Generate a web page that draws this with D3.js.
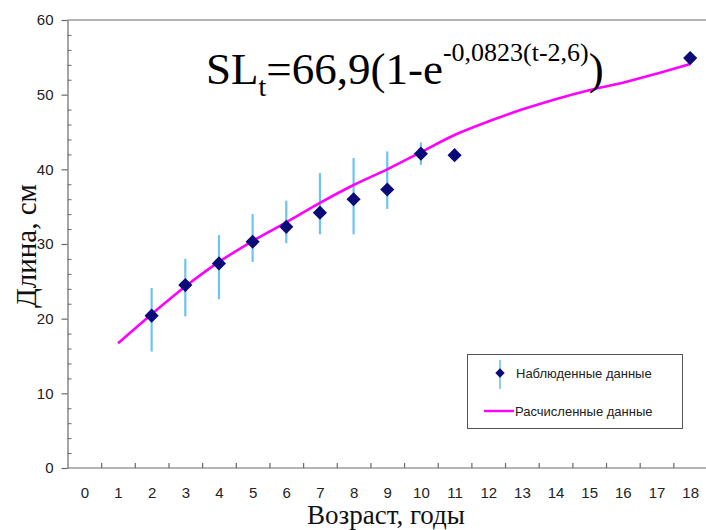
<!DOCTYPE html>
<html><head><meta charset="utf-8">
<script src="https://cdn.jsdelivr.net/npm/d3@7"></script>
<style>body{margin:0;background:#fff}svg{display:block}</style>
</head><body>
<script>
// Data
const ages = [2,3,4,5,6,7,8,9,10,11,18];
const observed = [20.4,24.5,27.4,30.3,32.3,34.2,36.0,37.3,42.1,41.9,54.9];
const errLow =  [15.6,20.3,22.6,27.6,30.1,31.3,31.3,34.7,40.6,null,null];
const errHigh = [24.1,28.0,31.2,34.0,35.8,39.5,41.5,42.4,43.6,null,null];
const calcAges = [1,2,3,4,5,6,7,8,9,10,11,12,13,14,15,16,17,18];
const calculated = [16.7,20.6,24.3,27.6,30.4,32.9,35.5,37.9,40.0,42.3,44.6,46.4,48.0,49.4,50.6,51.6,52.8,54.1];
const xTickLabels = [0,1,2,3,4,5,6,7,8,9,10,11,12,13,14,15,16,17,18];
const yTicks = [0,10,20,30,40,50,60];
const legendLabels = ["Наблюденные данные","Расчисленные данные"];

const W=706,H=530;
const svg=d3.select("body").append("svg").attr("width",W).attr("height",H);
const sans="'Liberation Sans', Arial, sans-serif", serif="'Liberation Serif','Times New Roman',serif";
const axisCol="#6a6a6a";

const x=d3.scaleLinear().domain([-0.5,18.5]).range([67.5,707]);
const y=d3.scaleLinear().domain([0,60]).range([468,20]);

// top frame line
svg.append("line").attr("x1",x(-0.5)).attr("x2",W).attr("y1",y(60)).attr("y2",y(60)).attr("stroke",axisCol).attr("stroke-width",1.2);

// Y axis major
const gy=svg.append("g").attr("transform",`translate(${x(-0.5)},0)`)
 .call(d3.axisLeft(y).tickValues(yTicks).tickSizeInner(6).tickSizeOuter(0).tickPadding(8));
gy.selectAll("text").attr("font-family",sans).attr("font-size",15).attr("fill","#222");
gy.selectAll("line,path").attr("stroke",axisCol).attr("stroke-width",1.2);
// Y minor ticks inside
const gym=svg.append("g").attr("transform",`translate(${x(-0.5)},0)`)
 .call(d3.axisRight(y).tickValues(d3.range(2,60,2).filter(v=>v%10!==0)).tickSize(4).tickFormat(""));
gym.select("path").remove();
gym.selectAll("line").attr("stroke",axisCol);

// X axis: tick marks at category boundaries (inside)
const gx=svg.append("g").attr("transform",`translate(0,${y(0)})`)
 .call(d3.axisTop(x).tickValues(d3.range(0.5,18,1)).tickSizeInner(5).tickSizeOuter(0).tickFormat(""));
gx.select("path").attr("d",`M${x(-0.5)},0H${W}`);
gx.selectAll("line,path").attr("stroke",axisCol).attr("stroke-width",1.2);
// X labels
const gxl=svg.append("g").attr("transform",`translate(0,${y(0)})`)
 .call(d3.axisBottom(x).tickValues(xTickLabels).tickSize(0).tickPadding(19));
gxl.select("path").remove();
gxl.selectAll("text").attr("font-family",sans).attr("font-size",15).attr("fill","#222");

// Axis titles
svg.append("text").attr("x",386).attr("y",524).attr("text-anchor","middle")
 .attr("font-family",serif).attr("font-size",27).attr("fill","#111").text("Возраст, годы");
svg.append("text").attr("transform","translate(36,246) rotate(-90)").attr("text-anchor","middle")
 .attr("font-family",serif).attr("font-size",29).attr("fill","#111").text("Длина, см");

// Error bars
const obs=ages.map((a,i)=>({a,v:observed[i],lo:errLow[i],hi:errHigh[i]}));
svg.append("g").selectAll("line").data(obs.filter(d=>d.lo!=null)).join("line")
 .attr("x1",d=>x(d.a)).attr("x2",d=>x(d.a)).attr("y1",d=>y(d.lo)).attr("y2",d=>y(d.hi))
 .attr("stroke","#6cc4f0").attr("stroke-width",2.2);

// Calculated curve
const line=d3.line().x(d=>x(d[0])).y(d=>y(d[1])).curve(d3.curveCatmullRom.alpha(0.5));
svg.append("path").datum(calcAges.map((a,i)=>[a,calculated[i]])).attr("d",line)
 .attr("fill","none").attr("stroke","#ff00ff").attr("stroke-width",2.6);

// Diamonds
const sym=d3.symbol().type(d3.symbolSquare).size(100);
svg.append("g").selectAll("path").data(obs).join("path")
 .attr("d",sym).attr("transform",d=>`translate(${x(d.a)},${y(d.v)}) rotate(45)`)
 .attr("fill","#0a0a78");

// Equation
const eq=svg.append("text").attr("x",206).attr("y",84).attr("font-family",serif).attr("font-size",45).attr("fill","#000");
eq.append("tspan").text("SL");
eq.append("tspan").attr("font-size",28).attr("dy",12).text("t");
eq.append("tspan").attr("dy",-12).text("=66,9(1-e");
eq.append("tspan").attr("font-size",26).attr("dy",-23).text("-0,0823(t-2,6)");
eq.append("tspan").attr("dy",23).text(")");

// Legend
const lg=svg.append("g");
lg.append("rect").attr("x",467.5).attr("y",354.5).attr("width",215).attr("height",74)
 .attr("fill","#fff").attr("stroke","#555").attr("stroke-width",1);
lg.append("line").attr("x1",500).attr("x2",500).attr("y1",360).attr("y2",389).attr("stroke","#6cc4f0").attr("stroke-width",1.6);
lg.append("path").attr("d",d3.symbol().type(d3.symbolSquare).size(44)).attr("transform","translate(500,373) rotate(45)").attr("fill","#0a0a78");
lg.append("text").attr("x",516).attr("y",373).attr("dy","0.35em").attr("font-family",sans).attr("font-size",13).attr("fill","#222").text(legendLabels[0]);
lg.append("line").attr("x1",484).attr("x2",514).attr("y1",411).attr("y2",411).attr("stroke","#ff00ff").attr("stroke-width",2.4);
lg.append("text").attr("x",515).attr("y",411).attr("dy","0.35em").attr("font-family",sans).attr("font-size",13).attr("fill","#222").text(legendLabels[1]);
</script>
</body></html>
